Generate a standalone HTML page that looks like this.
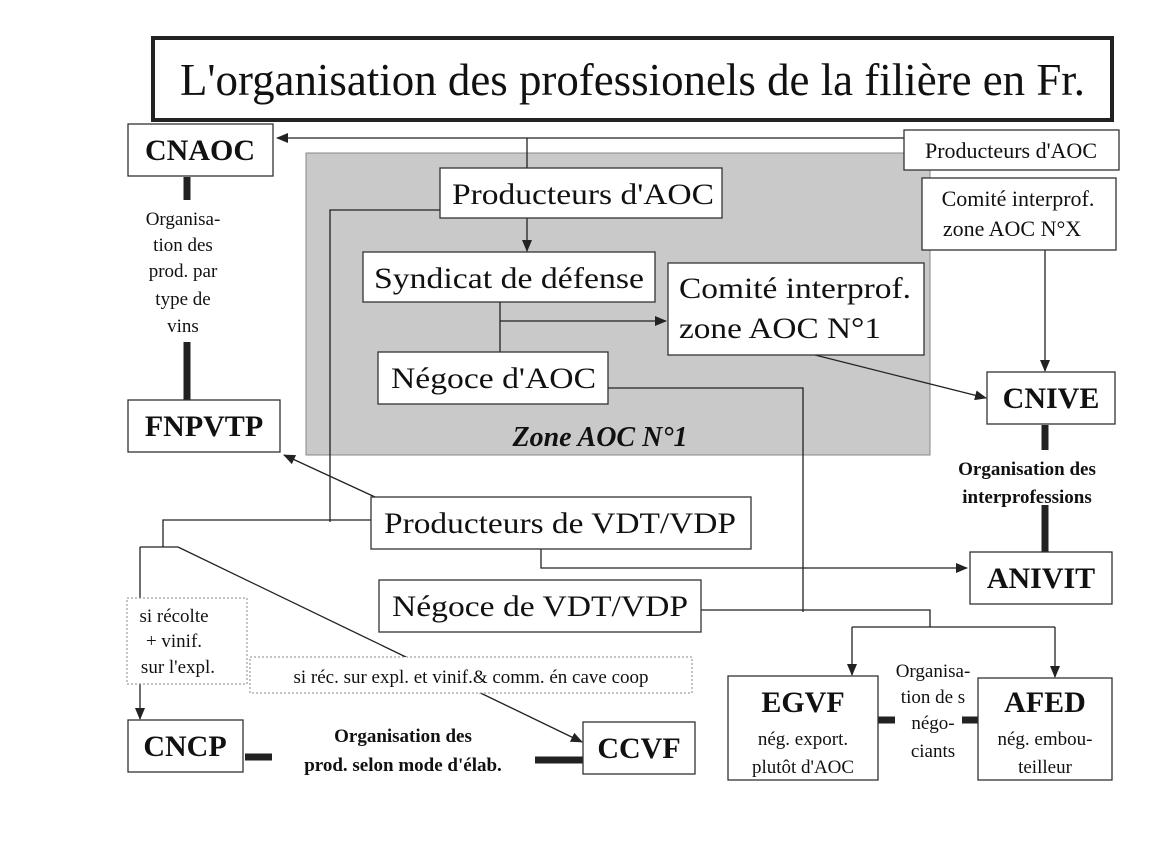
<!DOCTYPE html>
<html><head><meta charset="utf-8"><style>
body{margin:0;background:#fff;}
svg{display:block;}
text{font-family:"Liberation Serif",serif;fill:#111;}
</style></head><body>
<svg width="1170" height="850" viewBox="0 0 1170 850" xmlns="http://www.w3.org/2000/svg">
<defs>
<marker id="a" markerWidth="12" markerHeight="10" refX="11" refY="5" orient="auto" markerUnits="userSpaceOnUse">
<path d="M0,0 L12,5 L0,10 z" fill="#222"/></marker>
</defs>
<rect width="1170" height="850" fill="#fff"/>
<rect x="153" y="38" width="959" height="82" fill="none" stroke="#222" stroke-width="4"/>
<text x="180" y="95" font-size="46" textLength="905" lengthAdjust="spacingAndGlyphs">L'organisation des professionels de la filière en Fr.</text>
<rect x="306" y="153" width="624" height="302" fill="#c9c9c9" stroke="#888" stroke-width="1"/>
<text x="600" y="446" font-size="28" font-style="italic" font-weight="bold" text-anchor="middle">Zone AOC N°1</text>

<g stroke="#222" stroke-width="1.3" fill="none">
<line x1="904" y1="138" x2="277" y2="138" marker-end="url(#a)"/>
<line x1="527" y1="138" x2="527" y2="168"/>
<line x1="527" y1="218" x2="527" y2="251" marker-end="url(#a)"/>
<line x1="500" y1="302" x2="500" y2="352"/>
<line x1="500" y1="321" x2="666" y2="321" marker-end="url(#a)"/>
<line x1="815" y1="355" x2="986" y2="398" marker-end="url(#a)"/>
<line x1="1045" y1="250" x2="1045" y2="371" marker-end="url(#a)"/>
<polyline points="608,388 803,388 803,612"/>
<polyline points="701,610 930,610 930,627"/>
<line x1="852" y1="627" x2="1055" y2="627"/>
<line x1="852" y1="627" x2="852" y2="675" marker-end="url(#a)"/>
<line x1="1055" y1="627" x2="1055" y2="677" marker-end="url(#a)"/>
<polyline points="440,210 330,210 330,522"/>
<polyline points="371,520 163,520 163,547"/>
<line x1="140" y1="547" x2="178" y2="547"/>
<line x1="140" y1="547" x2="140" y2="719" marker-end="url(#a)"/>
<line x1="178" y1="547" x2="582" y2="742" marker-end="url(#a)"/>
<line x1="375" y1="497" x2="284" y2="455" marker-end="url(#a)"/>
<polyline points="541,549 541,568 967,568" marker-end="url(#a)"/>
</g>
<g stroke="#222" stroke-width="7">
<line x1="187" y1="177" x2="187" y2="200"/>
<line x1="187" y1="342" x2="187" y2="400"/>
<line x1="1045" y1="425" x2="1045" y2="450"/>
<line x1="1045" y1="505" x2="1045" y2="552"/>
<line x1="245" y1="757" x2="272" y2="757"/>
<line x1="535" y1="760" x2="583" y2="760"/>
<line x1="878" y1="720" x2="895" y2="720"/>
<line x1="962" y1="720" x2="978" y2="720"/>
</g>
<g fill="#fff" stroke="#333" stroke-width="1.3">
<rect x="128" y="124" width="145" height="52"/>
<rect x="904" y="130" width="215" height="40"/>
<rect x="922" y="178" width="194" height="72"/>
<rect x="440" y="168" width="282" height="50"/>
<rect x="363" y="252" width="292" height="50"/>
<rect x="668" y="263" width="256" height="92"/>
<rect x="378" y="352" width="230" height="52"/>
<rect x="987" y="372" width="128" height="52"/>
<rect x="128" y="400" width="152" height="52"/>
<rect x="970" y="552" width="142" height="52"/>
<rect x="371" y="497" width="380" height="52"/>
<rect x="379" y="580" width="322" height="52"/>
<rect x="128" y="720" width="115" height="52"/>
<rect x="583" y="722" width="112" height="52"/>
<rect x="728" y="676" width="150" height="104"/>
<rect x="978" y="678" width="134" height="102"/>
</g>
<g fill="#fff" stroke="#888" stroke-width="1" stroke-dasharray="2,2">
<rect x="127" y="598" width="120" height="86"/>
<rect x="250" y="657" width="442" height="36"/>
</g>
<g font-weight="bold" font-size="30" text-anchor="middle">
<text x="200" y="160">CNAOC</text>
<text x="204" y="436">FNPVTP</text>
<text x="1051" y="408">CNIVE</text>
<text x="1041" y="588">ANIVIT</text>
<text x="185" y="756">CNCP</text>
<text x="639" y="758">CCVF</text>
<text x="803" y="712">EGVF</text>
<text x="1045" y="712">AFED</text>
</g>
<g font-size="30">
<text x="452" y="204" textLength="262" lengthAdjust="spacingAndGlyphs">Producteurs d'AOC</text>
<text x="374" y="288" textLength="270" lengthAdjust="spacingAndGlyphs">Syndicat de défense</text>
<text x="679" y="298" textLength="232" lengthAdjust="spacingAndGlyphs">Comité interprof.</text>
<text x="679" y="338" textLength="202" lengthAdjust="spacingAndGlyphs">zone AOC N°1</text>
<text x="391" y="388" textLength="205" lengthAdjust="spacingAndGlyphs">Négoce d'AOC</text>
<text x="384" y="533" textLength="352" lengthAdjust="spacingAndGlyphs">Producteurs de VDT/VDP</text>
<text x="392" y="616" textLength="296" lengthAdjust="spacingAndGlyphs">Négoce de VDT/VDP</text>
</g>
<g font-size="22" text-anchor="middle">
<text x="1011" y="158">Producteurs d'AOC</text>
<text x="1018" y="206">Comité interprof.</text>
<text x="1012" y="236">zone AOC N°X</text>
</g>
<g font-size="19" text-anchor="middle">
<text x="183" y="225">Organisa-</text>
<text x="183" y="251">tion des</text>
<text x="183" y="277">prod. par</text>
<text x="183" y="305">type de</text>
<text x="183" y="332">vins</text>
<text x="174" y="622">si récolte</text>
<text x="174" y="647">+ vinif.</text>
<text x="178" y="673">sur l'expl.</text>
<text x="471" y="683">si réc. sur expl. et vinif.&amp; comm. én cave coop</text>
<text x="803" y="745">nég. export.</text>
<text x="803" y="773">plutôt d'AOC</text>
<text x="1045" y="745">nég. embou-</text>
<text x="1045" y="773">teilleur</text>
<text x="933" y="677">Organisa-</text>
<text x="933" y="703">tion de s</text>
<text x="933" y="729">négo-</text>
<text x="933" y="757">ciants</text>
</g>
<g font-size="19" font-weight="bold" text-anchor="middle">
<text x="1027" y="475">Organisation des</text>
<text x="1027" y="503">interprofessions</text>
<text x="403" y="742">Organisation des</text>
<text x="403" y="771">prod. selon mode d'élab.</text>
</g>
</svg>
</body></html>
